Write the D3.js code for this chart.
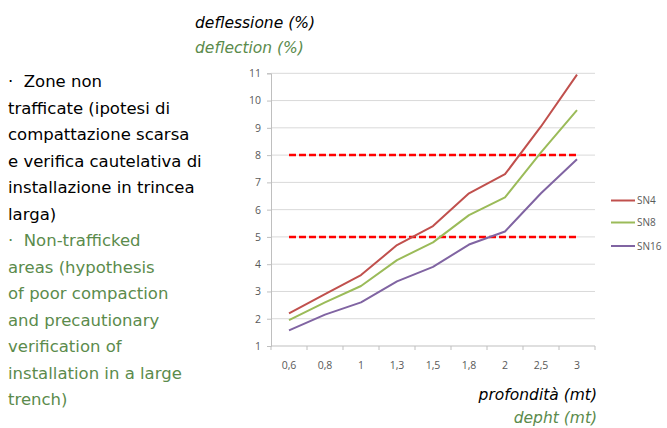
<!DOCTYPE html>
<html><head><meta charset="utf-8">
<script src="https://cdn.jsdelivr.net/npm/d3@7"></script>
<style>
body{margin:0;background:#fff;}
svg{display:block;}
</style></head>
<body>
<svg id="c" width="667" height="428"></svg>
<script>
const categories = ["0,6","0,8","1","1,3","1,5","1,8","2","2,5","3"];
const seriesNames = ["SN4","SN8","SN16"];
const sn4  = [2.2, 2.9, 3.6, 4.7, 5.4, 6.6, 7.3, 9.05, 10.95];
const sn8  = [1.95, 2.6, 3.2, 4.15, 4.8, 5.8, 6.45, 8.1, 9.65];
const sn16 = [1.57, 2.15, 2.6, 3.37, 3.9, 4.72, 5.2, 6.6, 7.85];
const thresholds = [5, 8];
const yTicks = [1,2,3,4,5,6,7,8,9,10,11];
const leftTextIt = ["·  Zone non","trafficate (ipotesi di","compattazione scarsa","e verifica cautelativa di","installazione in trincea","larga)"];
const leftTextEn = ["·  Non-trafficked","areas (hypothesis","of poor compaction","and precautionary","verification of","installation in a large","trench)"];

const colors = ["#c0504d","#9bbb59","#8064a2"];
const green = "#5b8b4c";
const svg = d3.select("#c");

const x = d3.scaleBand().domain(categories).range([271, 595]);
const y = d3.scaleLinear().domain([1, 11]).range([346, 73.3]);
const cx = c => x(c) + x.bandwidth()/2;

// gridlines
svg.append("g").selectAll("line").data(yTicks.slice(1)).join("line")
  .attr("x1", 271).attr("x2", 595)
  .attr("y1", d => y(d)).attr("y2", d => y(d))
  .attr("stroke", "#d9d9d9").attr("stroke-width", 1);

// y axis
const yAxis = svg.append("g").attr("transform","translate(271,0)")
  .call(d3.axisLeft(y).tickValues(yTicks).tickSize(4).tickFormat(d3.format("d")));
yAxis.select(".domain").attr("stroke","#bfbfbf");
yAxis.selectAll(".tick line").attr("stroke","#bfbfbf");
yAxis.selectAll("text").attr("fill","#595959").attr("font-size","10.5px")
  .attr("font-family","'Open Sans', sans-serif").attr("x",-10);

// x axis
svg.append("line").attr("x1",271).attr("x2",595).attr("y1",y(1)).attr("y2",y(1)).attr("stroke","#bfbfbf");
const bounds = categories.map(c => x(c)).concat([x.range()[1]]);
svg.append("g").selectAll("line").data(bounds).join("line")
  .attr("x1", d=>d).attr("x2", d=>d).attr("y1", y(1)).attr("y2", y(1)+4)
  .attr("stroke","#bfbfbf");
svg.append("g").selectAll("text").data(categories).join("text")
  .attr("x", d=>cx(d)).attr("y", y(1)+23)
  .attr("text-anchor","middle").attr("fill","#595959").attr("font-size","10.5px")
  .attr("font-family","'Open Sans', sans-serif").text(d=>d);

// thresholds
svg.append("g").selectAll("line").data(thresholds).join("line")
  .attr("x1", cx(categories[0])).attr("x2", cx(categories[categories.length-1]))
  .attr("y1", d=>y(d)).attr("y2", d=>y(d))
  .attr("stroke","#ff0000").attr("stroke-width",2.5).attr("stroke-dasharray","7,3");

// series
const series = [sn4, sn8, sn16];
const line = d3.line().x((d,i)=>cx(categories[i])).y(d=>y(d));
svg.append("g").selectAll("path").data(series).join("path")
  .attr("d", line).attr("fill","none")
  .attr("stroke",(d,i)=>colors[i]).attr("stroke-width",2).attr("stroke-linejoin","round");

// legend
const lg = svg.append("g").selectAll("g").data(seriesNames).join("g")
  .attr("transform",(d,i)=>`translate(611,${[200.5,222.5,246][i]})`);
lg.append("line").attr("x1",0).attr("x2",24).attr("stroke",(d,i)=>colors[i]).attr("stroke-width",2);
lg.append("text").attr("x",26).attr("dy","0.35em").attr("fill","#595959")
  .attr("font-size","10px").attr("font-family","'Open Sans', sans-serif").text(d=>d);

// titles
const tf = "'DejaVu Sans', sans-serif";
svg.append("text").attr("x",195).attr("y",28).attr("font-family",tf).attr("font-style","italic")
  .attr("font-size","15.5px").attr("fill","#000").text("deflessione (%)");
svg.append("text").attr("x",195).attr("y",53).attr("font-family",tf).attr("font-style","italic")
  .attr("font-size","15.5px").attr("fill",green).text("deflection (%)");
svg.append("text").attr("x",597).attr("y",400).attr("text-anchor","end").attr("font-family",tf).attr("font-style","italic")
  .attr("font-size","15.5px").attr("fill","#000").text("profondità (mt)");
svg.append("text").attr("x",597).attr("y",423).attr("text-anchor","end").attr("font-family",tf).attr("font-style","italic")
  .attr("font-size","15.5px").attr("fill",green).text("depht (mt)");

// left text
const lines = leftTextIt.map(t=>({t, c:"#000"})).concat(leftTextEn.map(t=>({t, c:green})));
svg.append("g").selectAll("text").data(lines).join("text")
  .attr("x",8).attr("y",(d,i)=>87 + i*26.5)
  .attr("font-family",tf).attr("font-size","16.5px").attr("fill",d=>d.c)
  .style("white-space","pre").text(d=>d.t);
</script>
</body></html>
